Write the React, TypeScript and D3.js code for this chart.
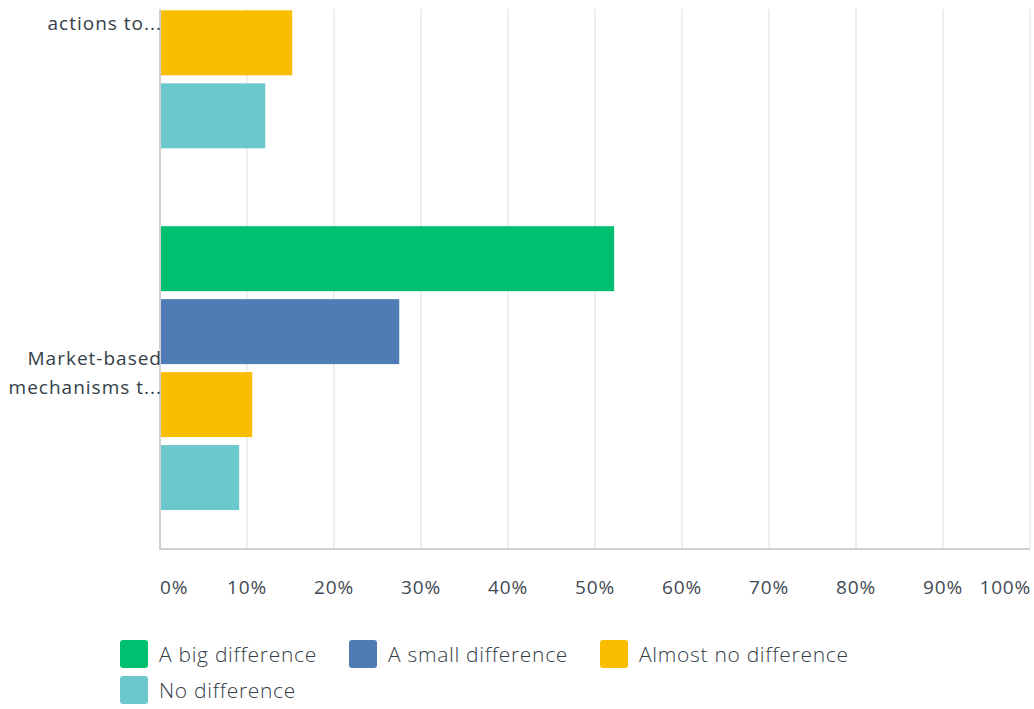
import React, { useEffect, useRef } from 'react';
import * as d3 from 'd3';

// categories (the first one is scrolled partly out of view in the reference)
const categories = ['actions to...', 'Market-based mechanisms t...'];
const categoryLines = [['', 'actions to...'], ['Market-based', 'mechanisms t...']];
const series = ['A big difference', 'A small difference', 'Almost no difference', 'No difference'];
const colors = ['#00bf6f', '#507cb6', '#f9be00', '#6bc8cd'];
// percent per category, same order as categories
const bigDiff = [45.5, 52.2];
const smallDiff = [27.3, 27.5];
const almostNo = [15.2, 10.6];
const noDiff = [12.1, 9.1];
const ticks = [0, 10, 20, 30, 40, 50, 60, 70, 80, 90, 100];

const W = 1034;
const H = 709;

const App: React.FC = () => {
  const ref = useRef<SVGSVGElement>(null);

  useEffect(() => {
    if (!ref.current) return;
    const svg = d3.select(ref.current);
    svg.selectAll('*').remove();

    const font = '"Open Sans", Roboto, sans-serif';
    const left = 160, right = 1030, top = 9, bottom = 549;

    const x = d3.scaleLinear().domain([0, 100]).range([left, right]);
    // whole list scrolled: first band starts above the visible area
    const y = d3.scaleBand<string>().domain(categories).range([-174.5, bottom]);
    const inner = d3.scaleBand<string>().domain(series)
      .range([0, y.bandwidth()])
      .paddingInner(8 / 73)
      .paddingOuter(0.534);

    const values = [bigDiff, smallDiff, almostNo, noDiff];

    svg.append('defs').append('clipPath').attr('id', 'plotClip')
      .append('rect').attr('x', 0).attr('y', top).attr('width', W).attr('height', bottom - top + 2);

    const plot = svg.append('g').attr('clip-path', 'url(#plotClip)');

    // grid
    plot.append('g').selectAll('line').data(ticks.slice(1)).join('line')
      .attr('x1', d => x(d)).attr('x2', d => x(d))
      .attr('y1', top).attr('y2', bottom)
      .attr('stroke', '#e9e9e9').attr('stroke-width', 1.5);

    // bars
    categories.forEach((c, ci) => {
      series.forEach((s, si) => {
        plot.append('rect')
          .attr('x', x(0))
          .attr('y', (y(c) as number) + (inner(s) as number))
          .attr('width', x(values[si][ci]) - x(0))
          .attr('height', inner.bandwidth())
          .attr('fill', colors[si]);
      });
    });

    // axis lines
    plot.append('line').attr('x1', left).attr('x2', left).attr('y1', top).attr('y2', bottom)
      .attr('stroke', '#d0d0d0').attr('stroke-width', 2);
    svg.append('line').attr('x1', left - 1).attr('x2', right).attr('y1', bottom).attr('y2', bottom)
      .attr('stroke', '#d0d0d0').attr('stroke-width', 2);

    // category labels
    categories.forEach((c, ci) => {
      const cy = (y(c) as number) + y.bandwidth() / 2;
      categoryLines[ci].forEach((ln, li) => {
        if (!ln) return;
        plot.append('text')
          .attr('x', left + 2)
          .attr('y', cy - 3 + li * 29 - (ci === 0 ? 2 : 0))
          .attr('text-anchor', 'end')
          .attr('font-family', font)
          .attr('font-size', 19)
          .attr('letter-spacing', 1)
          .attr('fill', '#333e48')
          .text(ln);
      });
    });

    // tick labels
    svg.append('g').selectAll('text').data(ticks).join('text')
      .attr('x', d => x(d) + (d === 100 ? 1 : 0))
      .attr('y', 594)
      .attr('text-anchor', d => d === 0 ? 'start' : d === 100 ? 'end' : 'middle')
      .attr('font-family', font)
      .attr('font-size', 19)
      .attr('letter-spacing', 0.8)
      .attr('fill', '#3f4a54')
      .text(d => `${d}%`);

    // legend
    const legendPos = [[120, 640], [349, 640], [600, 640], [120, 676]];
    series.forEach((s, i) => {
      const [lx, ly] = legendPos[i];
      svg.append('rect').attr('x', lx).attr('y', ly).attr('width', 28).attr('height', 28)
        .attr('rx', 3).attr('fill', colors[i]);
      svg.append('text').attr('x', lx + 39).attr('y', ly + 22)
        .attr('font-family', font).attr('font-size', 21).attr('font-weight', 300)
        .attr('letter-spacing', 0.7)
        .attr('fill', '#333e48').text(s);
    });
  }, []);

  return (
    <svg ref={ref} width={W} height={H}
      style={{ position: 'absolute', left: 0, top: 0, background: '#fff' }} />
  );
};

export default App;
